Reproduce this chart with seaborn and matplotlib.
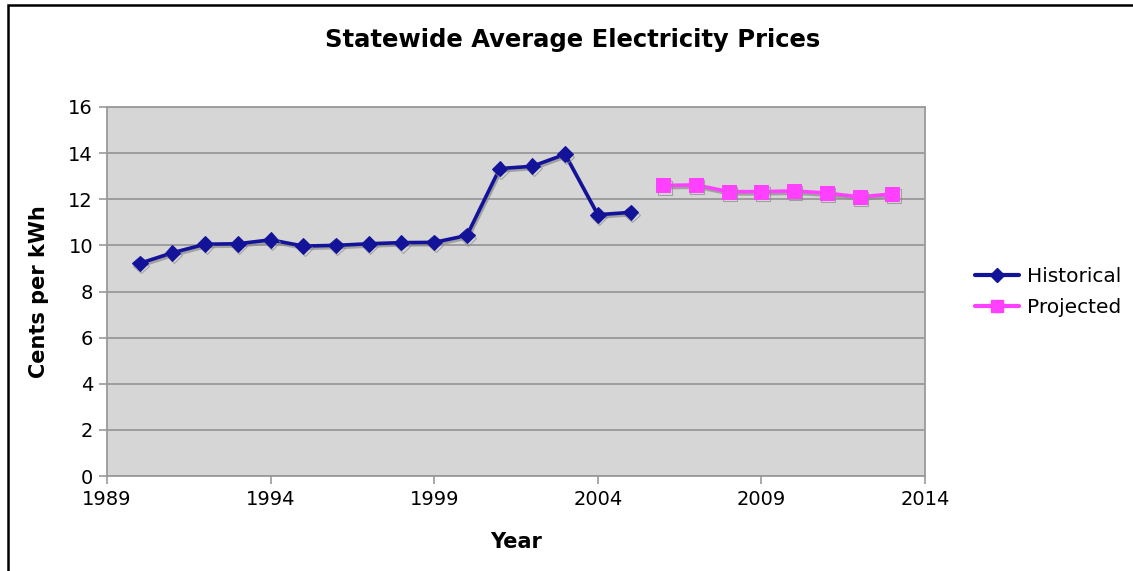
"""
Statewide Average Electricity Prices: historical vs projected line chart
"""

import pandas as pd
import matplotlib.pyplot as plt
import matplotlib.patheffects as pe
from matplotlib.lines import Line2D
from matplotlib.patches import Rectangle
import seaborn as sns

# =============================================================================
# DATA
# =============================================================================
hist_years = [1990, 1991, 1992, 1993, 1994, 1995, 1996, 1997,
              1998, 1999, 2000, 2001, 2002, 2003, 2004, 2005]
hist_cents = [9.22, 9.68, 10.05, 10.07, 10.24, 9.97, 10.0, 10.07,
              10.12, 10.13, 10.43, 13.33, 13.43, 13.95, 11.33, 11.43]

proj_years = [2006, 2007, 2008, 2009, 2010, 2011, 2012, 2013]
proj_cents = [12.6, 12.62, 12.33, 12.33, 12.36, 12.27, 12.1, 12.23]

x_ticks = [1989, 1994, 1999, 2004, 2009, 2014]
y_ticks = [0, 2, 4, 6, 8, 10, 12, 14, 16]

NAVY = "#13139a"
MAGENTA = "#ff40ff"

# =============================================================================
# PLOT
# =============================================================================
sns.set_style("white", rc={"text.color": "black", "axes.labelcolor": "black",
                           "xtick.color": "black", "ytick.color": "black"})
plt.rcParams["font.family"] = ["DejaVu Sans"]

df_hist = pd.DataFrame({"Year": hist_years, "Cents": hist_cents})
df_proj = pd.DataFrame({"Year": proj_years, "Cents": proj_cents})

fig = plt.figure(figsize=(11.33, 5.71), dpi=100)
ax = fig.add_axes([107 / 1133, 1 - 476 / 571, (925 - 107) / 1133, (476 - 107) / 571])
ax.set_facecolor("#d6d6d6")

shadow = [pe.SimpleLineShadow(offset=(1.0, -1.6), shadow_color="#8a8a8a", alpha=0.7), pe.Normal()]

sns.lineplot(data=df_hist, x="Year", y="Cents", ax=ax, color=NAVY, lw=2.6,
             marker="D", markersize=8, markeredgecolor=NAVY,
             path_effects=shadow, zorder=3)
sns.lineplot(data=df_proj, x="Year", y="Cents", ax=ax, color=MAGENTA, lw=2.6,
             marker="s", markersize=10, markeredgecolor=MAGENTA,
             path_effects=shadow, zorder=3)

ax.set_xlim(1989, 2014)
ax.set_ylim(0, 16)
ax.set_xticks(x_ticks)
ax.set_yticks(y_ticks)
ax.yaxis.grid(True, color="#999999", lw=1.3)
ax.set_axisbelow(True)
for s in ax.spines.values():
    s.set_color("#9a9a9a")
    s.set_linewidth(1.3)
ax.tick_params(axis="both", labelsize=14, length=6, width=1.2, color="#9a9a9a",
               labelcolor="black", direction="out", bottom=True, left=True, pad=4)

ax.set_xlabel("Year", fontsize=15, fontweight="bold", labelpad=17)
ax.set_ylabel("Cents per kWh", fontsize=15, fontweight="bold", labelpad=14)
fig.text(573 / 1133, 1 - 40 / 571, "Statewide Average Electricity Prices",
         ha="center", va="center", fontsize=17.5, fontweight="bold")

handles = [
    Line2D([], [], color=NAVY, lw=3, marker="D", markersize=7),
    Line2D([], [], color=MAGENTA, lw=3, marker="s", markersize=8),
]
fig.legend(handles, ["Historical", "Projected"], loc="center left",
           bbox_to_anchor=(975 / 1133, 1 - 292 / 571), frameon=False,
           fontsize=14.5, handlelength=2.2, handletextpad=0.4, labelspacing=0.6,
           borderaxespad=0, borderpad=0)

# outer frame around the chart
fig.patches.append(Rectangle((8 / 1133, -0.05), 1.2, 1 - 5 / 571 + 0.05,
                             transform=fig.transFigure, fill=False,
                             edgecolor="black", lw=1.8))

plt.savefig("out.png", dpi=100)
plt.close(fig)
